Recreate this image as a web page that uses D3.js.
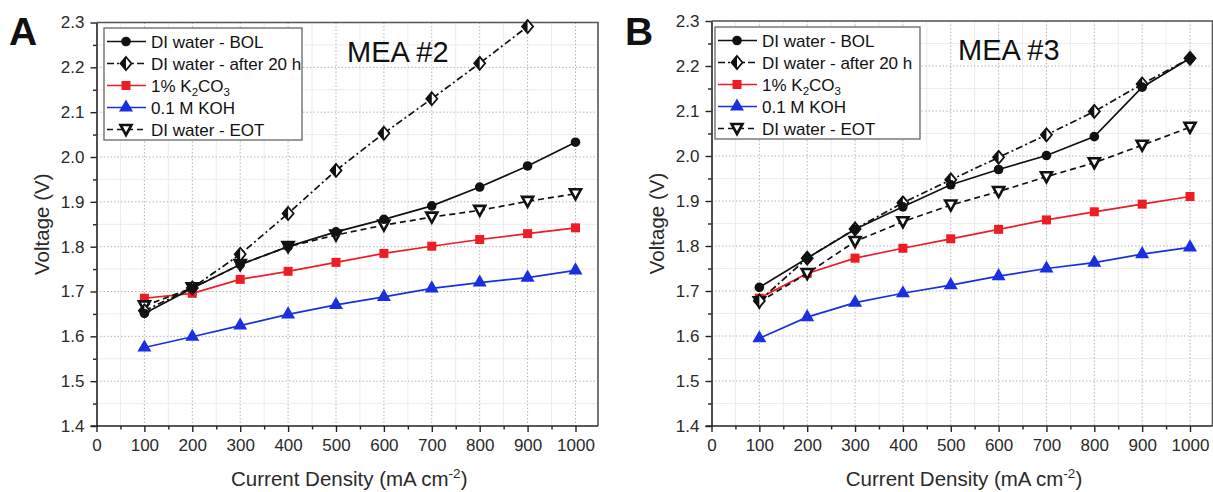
<!DOCTYPE html>
<html>
<head>
<meta charset="utf-8">
<script src="https://cdn.jsdelivr.net/npm/d3@7"></script>
<style>
  body { margin: 0; background: #fff; }
  text { font-family: "Liberation Sans", Arial, sans-serif; }
</style>
</head>
<body>
<script>
"use strict";

// x values (current density, mA cm-2)
const currentDensity = [100, 200, 300, 400, 500, 600, 700, 800, 900, 1000];
const xTicks = [0, 100, 200, 300, 400, 500, 600, 700, 800, 900, 1000];
const yTicks = [1.4, 1.5, 1.6, 1.7, 1.8, 1.9, 2.0, 2.1, 2.2, 2.3];

const seriesNames = ["DI water - BOL", "DI water - after 20 h", "1% K2CO3", "0.1 M KOH", "DI water - EOT"];

// MEA #2 (panel A)
const mea2BOL = [1.651, 1.707, 1.760, 1.800, 1.833, 1.861, 1.891, 1.933, 1.980, 2.033];
const mea2After20h = [1.657, 1.708, 1.783, 1.874, 1.970, 2.053, 2.130, 2.209, 2.291, null];
const mea2K2CO3 = [1.685, 1.696, 1.727, 1.745, 1.765, 1.785, 1.801, 1.816, 1.829, 1.842];
const mea2KOH = [1.575, 1.599, 1.624, 1.649, 1.670, 1.688, 1.707, 1.720, 1.731, 1.747];
const mea2EOT = [1.668, 1.708, 1.760, 1.800, 1.826, 1.848, 1.866, 1.881, 1.901, 1.918];

// MEA #3 (panel B)
const mea3BOL = [1.708, 1.773, 1.837, 1.887, 1.936, 1.970, 2.001, 2.043, 2.153, 2.217];
const mea3After20h = [1.678, 1.773, 1.838, 1.896, 1.947, 1.997, 2.047, 2.099, 2.160, 2.217];
const mea3K2CO3 = [1.684, 1.739, 1.773, 1.795, 1.816, 1.837, 1.858, 1.876, 1.893, 1.910];
const mea3KOH = [1.595, 1.642, 1.674, 1.695, 1.713, 1.733, 1.750, 1.763, 1.782, 1.797];
const mea3EOT = [1.676, 1.739, 1.810, 1.854, 1.891, 1.921, 1.954, 1.985, 2.024, 2.064];

// series look (line + marker)
const styles = [
  { color: "#111", dash: null, marker: "circle" },
  { color: "#111", dash: "7,3,2,3", marker: "halfDiamond" },
  { color: "#ee1c24", dash: null, marker: "square" },
  { color: "#1a2fe0", dash: null, marker: "triangle" },
  { color: "#111", dash: "6,4", marker: "downTriangle" },
];

const svg = d3.select("body").append("svg").attr("width", 1213).attr("height", 492);

function drawMarker(g, kind, color) {
  if (kind === "circle") {
    g.append("circle").attr("r", 4.8).attr("fill", color);
  } else if (kind === "halfDiamond") {
    g.append("path").attr("d", "M0,-6.5L5.5,0L0,6.5L-5.5,0Z").attr("fill", "#fff").attr("stroke", "#111").attr("stroke-width", 1.8);
    g.append("path").attr("d", "M0,-6.5L-5.5,0L0,6.5Z").attr("fill", "#111");
  } else if (kind === "square") {
    g.append("rect").attr("x", -4.5).attr("y", -4.5).attr("width", 9).attr("height", 9).attr("fill", color);
  } else if (kind === "triangle") {
    g.append("path").attr("d", d3.symbol(d3.symbolTriangle, 85)()).attr("fill", color);
  } else if (kind === "downTriangle") {
    g.append("path").attr("d", "M-5.5,-4.5L5.5,-4.5L0,5.5Z").attr("fill", "#fff").attr("stroke", "#111").attr("stroke-width", 2.6);
  }
}

function drawPanel(p) {
  const x = d3.scaleLinear().domain([0, 1047]).range([p.left, p.right]);
  const y = d3.scaleLinear().domain([1.4, 2.3]).range([p.bottom, p.top]);

  const g = svg.append("g");

  // minor grid
  const xMinor = xTicks.slice(0, -1).map((t) => t + 50);
  const yMinor = yTicks.slice(0, -1).map((t) => +(t + 0.05).toFixed(2));
  g.append("g").selectAll("line").data(xMinor).join("line")
    .attr("x1", (d) => x(d)).attr("x2", (d) => x(d)).attr("y1", p.top).attr("y2", p.bottom)
    .attr("stroke", "#ececec");
  g.append("g").selectAll("line").data(yMinor).join("line")
    .attr("x1", p.left).attr("x2", p.right).attr("y1", (d) => y(d)).attr("y2", (d) => y(d))
    .attr("stroke", "#ececec");

  // major grid (dotted)
  g.append("g").selectAll("line").data(xTicks.slice(1)).join("line")
    .attr("x1", (d) => x(d)).attr("x2", (d) => x(d)).attr("y1", p.top).attr("y2", p.bottom)
    .attr("stroke", "#b5b5b5").attr("stroke-dasharray", "1.5,2");
  g.append("g").selectAll("line").data(yTicks.slice(1)).join("line")
    .attr("x1", p.left).attr("x2", p.right).attr("y1", (d) => y(d)).attr("y2", (d) => y(d))
    .attr("stroke", "#b5b5b5").attr("stroke-dasharray", "1.5,2");

  // frame top + right
  g.append("path")
    .attr("d", `M${p.left},${p.top}H${p.right}V${p.bottom}`)
    .attr("fill", "none").attr("stroke", "#555").attr("stroke-width", 1.6);

  // clip for the series
  const clipId = "clip" + p.id;
  svg.append("clipPath").attr("id", clipId).append("rect")
    .attr("x", p.left).attr("y", p.top - 6).attr("width", p.right - p.left).attr("height", p.bottom - p.top + 6);

  const plot = g.append("g").attr("clip-path", `url(#${clipId})`);
  const line = d3.line().defined((d) => d.v != null).x((d) => x(d.x)).y((d) => y(d.v));

  // draw order: KOH, K2CO3, EOT, after 20 h, BOL
  [3, 2, 4, 1, 0].forEach((i) => {
    const st = styles[i];
    const pts = currentDensity.map((c, k) => ({ x: c, v: p.series[i][k] }));
    plot.append("path").datum(pts).attr("d", line)
      .attr("fill", "none").attr("stroke", st.color).attr("stroke-width", 1.7)
      .attr("stroke-dasharray", st.dash);
    pts.filter((d) => d.v != null).forEach((d) => {
      const m = plot.append("g").attr("transform", `translate(${x(d.x)},${y(d.v)})`);
      drawMarker(m, st.marker, st.color);
    });
  });

  // axes
  const xAxis = g.append("g").attr("transform", `translate(0,${p.bottom})`)
    .call(d3.axisBottom(x).tickValues(xTicks).tickSize(6).tickSizeOuter(0).tickPadding(7).tickFormat(d3.format("d")));
  g.append("g").attr("transform", `translate(0,${p.bottom})`)
    .call(d3.axisBottom(x).tickValues(xMinor).tickSize(3.5).tickFormat("").tickSizeOuter(0))
    .call((s) => s.select(".domain").remove());
  xAxis.select(".domain").attr("d", `M${p.left - 6},0H${p.right}`);

  g.append("g").attr("transform", `translate(${p.left},0)`)
    .call(d3.axisLeft(y).tickValues(yTicks).tickSize(6).tickSizeOuter(0).tickPadding(6).tickFormat(d3.format(".1f")));
  g.append("g").attr("transform", `translate(${p.left},0)`)
    .call(d3.axisLeft(y).tickValues(yMinor).tickSize(3.5).tickFormat("").tickSizeOuter(0))
    .call((s) => s.select(".domain").remove());

  g.selectAll(".tick line").attr("stroke", "#222").attr("stroke-width", 1.4);
  g.selectAll(".domain").attr("stroke", "#222").attr("stroke-width", 1.6);
  g.selectAll(".tick text").attr("font-size", 17).attr("fill", "#2a2a2a")
    .attr("font-family", "'Liberation Sans', Arial, sans-serif");

  // axis titles
  const xl = g.append("text").attr("x", (p.left + p.right) / 2 + 2).attr("y", 486)
    .attr("text-anchor", "middle").attr("font-size", 20.5).attr("fill", "#2a2a2a");
  xl.append("tspan").text("Current Density (mA cm");
  xl.append("tspan").attr("dy", -8).attr("font-size", 13.5).text("-2");
  xl.append("tspan").attr("dy", 8).text(")");

  g.append("text").attr("transform", `translate(${p.left - 48},${(p.top + p.bottom) / 2}) rotate(-90)`)
    .attr("text-anchor", "middle").attr("font-size", 20.5).attr("fill", "#2a2a2a").text("Voltage (V)");

  // panel letter + title
  g.append("text").attr("x", p.letterX).attr("y", 45).attr("font-size", 39).attr("font-weight", "bold")
    .attr("fill", "#111").text(p.letter);
  g.append("text").attr("x", p.titleX).attr("y", p.titleY).attr("font-size", 29).attr("fill", "#111").text(p.title);

  // legend
  const lg = g.append("g").attr("transform", `translate(${p.legX},${p.legY})`);
  lg.append("rect").attr("width", p.legW).attr("height", 112)
    .attr("fill", "#fff").attr("stroke", "#666").attr("stroke-width", 1.3);
  seriesNames.forEach((name, i) => {
    const st = styles[i];
    const row = lg.append("g").attr("transform", `translate(0,${13.5 + i * 22})`);
    row.append("line").attr("x1", 3).attr("x2", 42).attr("stroke", st.color).attr("stroke-width", 1.7)
      .attr("stroke-dasharray", st.dash);
    drawMarker(row.append("g").attr("transform", "translate(22,0)"), st.marker, st.color);
    const t = row.append("text").attr("x", 47).attr("y", 6).attr("font-size", 17).attr("fill", "#111");
    if (name === "1% K2CO3") {
      t.append("tspan").text("1% K");
      t.append("tspan").attr("dy", 4).attr("font-size", 11.5).text("2");
      t.append("tspan").attr("dy", -4).text("CO");
      t.append("tspan").attr("dy", 4).attr("font-size", 11.5).text("3");
    } else {
      t.text(name);
    }
  });
}

drawPanel({
  id: "A", left: 96.5, right: 598, top: 22.5, bottom: 426,
  letter: "A", letterX: 9, title: "MEA #2", titleX: 347, titleY: 62,
  legX: 104, legY: 28, legW: 198,
  series: [mea2BOL, mea2After20h, mea2K2CO3, mea2KOH, mea2EOT],
});

drawPanel({
  id: "B", left: 711.5, right: 1212.5, top: 21, bottom: 426,
  letter: "B", letterX: 625, title: "MEA #3", titleX: 958, titleY: 60,
  legX: 715, legY: 27, legW: 205,
  series: [mea3BOL, mea3After20h, mea3K2CO3, mea3KOH, mea3EOT],
});
</script>
</body>
</html>
